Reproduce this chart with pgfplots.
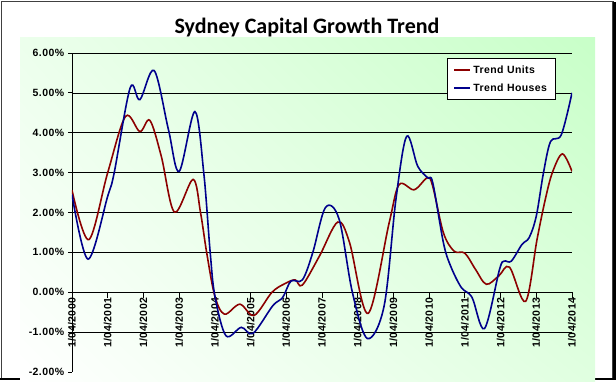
\documentclass[border=0pt]{standalone}
\usepackage{fontspec}
\setmainfont{Liberation Sans}
\newfontfamily\titlefont{Carlito}
\newfontfamily\labfont[LetterSpace=4]{Liberation Sans}
\usepackage{pgfplots}
\usetikzlibrary{shadings}
\pgfplotsset{compat=1.18}
\definecolor{unitred}{RGB}{140,0,0}
\definecolor{houseblue}{RGB}{0,0,140}
\definecolor{paleA}{RGB}{200,255,200}
\definecolor{paleB}{RGB}{236,255,236}
\definecolor{paleC}{RGB}{224,255,224}
\begin{document}
\begin{tikzpicture}[x=1pt,y=1pt]
\useasboundingbox (0,0) rectangle (616,382);
\draw[black!75, line width=1.2pt] (1.5,3.5) rectangle (613,380.5);
\draw[black, line width=2.5pt] (614.5,3) -- (614.5,380);
\draw[black, line width=2pt] (0,3) -- (616,3);
\shade[upper left=paleB, upper right=paleA, lower left=white, lower right=paleC] (20,0) rectangle (595,344);
\node[anchor=base, font=\titlefont\bfseries\fontsize{22}{25}\selectfont] at (307,348.5) {Sydney Capital Growth Trend};
\begin{axis}[
  at={(72pt,10pt)}, anchor=south west, scale only axis,
  width=500pt, height=319pt,
  xmin=0, xmax=14, ymin=-2, ymax=6,
  axis x line=middle, axis y line=left,
  axis line style={-, black, line width=0.8pt},
  hide obscured x ticks=false, hide obscured y ticks=false,
  tick align=outside,
  xtick={0,...,14},
  xticklabels={1/04/2000,1/04/2001,1/04/2002,1/04/2003,1/04/2004,1/04/2005,1/04/2006,1/04/2007,1/04/2008,1/04/2009,1/04/2010,1/04/2011,1/04/2012,1/04/2013,1/04/2014},
  xticklabel style={rotate=90, anchor=east, font=\labfont\bfseries\fontsize{10.5}{12}\selectfont, inner sep=1pt},
  ytick={-1,...,6},
  yticklabels={-1.00\%,0.00\%,1.00\%,2.00\%,3.00\%,4.00\%,5.00\%,6.00\%},
  extra y ticks={-2}, extra y tick labels={-2.00\%},
  extra y tick style={grid=none},
  yticklabel style={font=\labfont\bfseries\fontsize{10.5}{12}\selectfont},
  ymajorgrids, grid style={black, line width=0.7pt},
  xtick style={black, line width=0.8pt, /pgfplots/major tick length=6pt},
  ytick style={black, line width=0.8pt, /pgfplots/major tick length=4pt},
  legend style={at={(0.75,0.984)}, anchor=north west, draw=black, line width=0.8pt, fill=white,
    font=\labfont\bfseries\fontsize{10.5}{12}\selectfont, row sep=5pt, inner xsep=6pt, inner ysep=5pt},
  legend cell align=left,
  legend image code/.code={\draw[#1, line width=2pt] (0pt,0pt) -- (16pt,0pt);},
]
\addplot[unitred, line width=1.6pt, smooth, tension=0.55] coordinates {
(0,2.56) (0.47,1.32) (1.0,3.0) (1.5,4.41) (1.9,4.03) (2.18,4.31) (2.5,3.41) (2.87,2.01)
(3.39,2.83) (3.6,1.99) (3.77,1.0) (4.0,-0.1) (4.27,-0.55) (4.7,-0.30) (5.1,-0.58)
(5.6,0.0) (5.97,0.22) (6.25,0.31) (6.45,0.18) (6.93,0.91) (7.44,1.76) (7.77,1.25)
(8.29,-0.53) (8.88,1.74) (9.16,2.7) (9.58,2.57) (9.95,2.87) (10.1,2.66) (10.4,1.49)
(10.7,1.03) (11.0,0.98) (11.3,0.57) (11.6,0.2) (11.95,0.41) (12.25,0.63) (12.7,-0.23)
(13.02,1.32) (13.25,2.32) (13.45,3.0) (13.73,3.47) (14.0,3.03)
};
\addlegendentry{Trend Units}
\addplot[houseblue, line width=1.6pt, smooth, tension=0.55] coordinates {
(0,2.45) (0.45,0.83) (1.0,2.41) (1.18,2.99) (1.63,5.13) (1.9,4.83) (2.3,5.56) (2.7,4.08)
(3.0,3.03) (3.44,4.53) (3.69,2.99) (3.87,0.99) (4.0,-0.09) (4.31,-1.09) (4.74,-0.88)
(5.07,-1.03) (5.62,-0.34) (5.9,-0.13) (6.13,0.28) (6.45,0.31) (6.74,0.99) (7.1,2.13)
(7.48,1.83) (7.85,0.0) (8.27,-1.16) (8.74,-0.34) (9.07,2.33) (9.37,3.91) (9.68,3.16)
(9.96,2.87) (10.1,2.75) (10.4,1.24) (10.6,0.66) (10.9,0.12) (11.2,-0.13) (11.55,-0.91)
(11.97,0.57) (12.1,0.78) (12.3,0.78) (12.6,1.2) (12.8,1.37) (13.0,1.91) (13.2,2.99)
(13.4,3.78) (13.7,3.95) (14.0,5.0)
};
\addlegendentry{Trend Houses}
\end{axis}
\end{tikzpicture}
\end{document}
